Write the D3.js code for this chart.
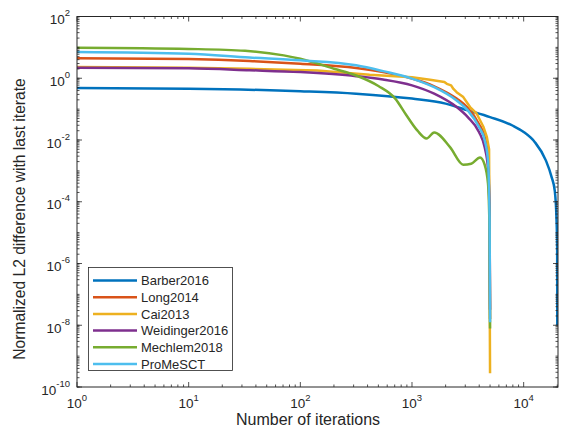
<!DOCTYPE html>
<html>
<head>
<meta charset="utf-8">
<script src="https://cdn.jsdelivr.net/npm/d3@7"></script>
<style>
  body { margin: 0; background: #fff; }
  text { font-family: "Liberation Sans", Arial, Helvetica, sans-serif; fill: #262626; }
</style>
</head>
<body>
<script>
// series (iterations vs. normalized L2 difference)
const seriesNames = ["Barber2016", "Long2014", "Cai2013", "Weidinger2016", "Mechlem2018", "ProMeSCT"];
const seriesColors = ["#0072BD", "#D95319", "#EDB120", "#7E2F8E", "#77AC30", "#4DBEEE"];

const barberIter = [1, 10, 100, 316, 1000, 2000, 3160, 5000, 7940, 10000, 12600, 15800, 17800, 19000, 19700, 19950, 20000];
const barberVal  = [0.479, 0.457, 0.380, 0.316, 0.219, 0.151, 0.0912, 0.055, 0.0295, 0.0182, 0.00851, 0.00219, 6.3e-4, 2.24e-4, 2.5e-5, 3.2e-6, 1e-8];

const longIter = [1, 10, 35, 100, 316, 550, 1000, 1580, 2510, 3160, 3980, 4470, 4790, 4950, 5000];
const longVal  = [4.47, 4.17, 3.63, 2.95, 2.14, 1.58, 0.977, 0.55, 0.219, 0.11, 0.0331, 0.0126, 0.00316, 3.2e-5, 1.6e-8];

const caiIter = [1, 10, 35, 141, 417, 1000, 1450, 1950, 2050, 2240, 2350, 2510, 2880, 3310, 3800, 4370, 4680, 4900, 4950, 5000];
const caiVal  = [2.3, 2.19, 2.02, 1.78, 1.29, 1.07, 0.891, 0.759, 0.66, 0.589, 0.45, 0.355, 0.245, 0.117, 0.0708, 0.0263, 0.0126, 0.005, 1e-6, 2.8e-10];

const weidIter = [1, 10, 35, 100, 316, 550, 1000, 1580, 2510, 3160, 3980, 4470, 4790, 4950, 5000];
const weidVal  = [2.19, 2.09, 1.82, 1.58, 1.17, 0.912, 0.589, 0.316, 0.117, 0.055, 0.0182, 0.00589, 0.00126, 3.2e-5, 3.2e-8];

const mechIter = [1, 10, 32, 71, 100, 200, 316, 500, 708, 891, 1120, 1350, 1580, 2190, 2880, 3390, 4070, 4470, 4790, 4950, 5000];
const mechVal  = [9.77, 8.91, 7.76, 5.5, 4.27, 2.04, 1.23, 0.562, 0.219, 0.0631, 0.02, 0.0112, 0.0174, 0.00589, 0.00158, 0.0017, 0.00269, 0.00158, 3.98e-4, 1e-5, 7.9e-9];

const promIter = [1, 10, 35, 100, 316, 550, 1000, 1580, 2510, 3160, 3980, 4470, 4790, 4950, 5000];
const promVal  = [7.08, 6.17, 4.68, 3.80, 2.63, 1.70, 0.977, 0.513, 0.191, 0.0912, 0.0263, 0.01, 0.00219, 3.2e-5, 1.26e-8];

const xTickExps = [0, 1, 2, 3, 4];
const yTickExps = [2, 0, -2, -4, -6, -8, -10];

const iters = [barberIter, longIter, caiIter, weidIter, mechIter, promIter];
const vals  = [barberVal, longVal, caiVal, weidVal, mechVal, promVal];

let width = 563, height = 435;
let plot = {left: 77, right: 558, top: 16.5, bottom: 387};

let svg = d3.select("body").append("svg")
    .attr("width", width)
    .attr("height", height);

let xScale = d3.scaleLog().domain([1, 20300]).range([plot.left, plot.right]);
let yScale = d3.scaleLog().domain([1e-10, 100]).range([plot.bottom, plot.top]);

// lines
svg.append("clipPath").attr("id", "clip")
  .append("rect")
    .attr("x", plot.left).attr("y", plot.top)
    .attr("width", plot.right - plot.left).attr("height", plot.bottom - plot.top);

let line = d3.line()
    .x(d => xScale(d[0]))
    .y(d => yScale(d[1]));

let data = seriesNames.map((name, i) => ({
    name: name,
    color: seriesColors[i],
    points: iters[i].map((it, j) => [it, vals[i][j]])
}));

svg.append("g").attr("clip-path", "url(#clip)")
  .selectAll("path")
  .data(data)
  .enter()
  .append("path")
    .attr("fill", "none")
    .attr("stroke", d => d.color)
    .attr("stroke-width", 2.5)
    .attr("stroke-linejoin", "round")
    .attr("d", d => line.curve(d.name === "Cai2013" ? d3.curveLinear : d3.curveMonotoneX)(d.points));

// box + ticks (matlab style, inside, mirrored)
let axisCol = "#262626";
let ticks = svg.append("g").attr("stroke", axisCol).attr("stroke-width", 0.8);

let xMinor = [], yMinor = [];
for (let e = 0; e <= 4; e++) for (let k = 2; k <= 9; k++) if (k * Math.pow(10, e) <= 20300) xMinor.push(k * Math.pow(10, e));
for (let e = -10; e < 2; e++) for (let k = 1; k <= 9; k++) yMinor.push(k * Math.pow(10, e));

xMinor.forEach(v => {
    let x = xScale(v);
    ticks.append("line").attr("x1", x).attr("x2", x).attr("y1", plot.bottom).attr("y2", plot.bottom - 2.5);
    ticks.append("line").attr("x1", x).attr("x2", x).attr("y1", plot.top).attr("y2", plot.top + 2.5);
});
xTickExps.forEach(e => {
    let x = xScale(Math.pow(10, e));
    ticks.append("line").attr("x1", x).attr("x2", x).attr("y1", plot.bottom).attr("y2", plot.bottom - 5);
    ticks.append("line").attr("x1", x).attr("x2", x).attr("y1", plot.top).attr("y2", plot.top + 5);
});
yMinor.forEach(v => {
    let y = yScale(v);
    ticks.append("line").attr("x1", plot.left).attr("x2", plot.left + 2.5).attr("y1", y).attr("y2", y);
    ticks.append("line").attr("x1", plot.right).attr("x2", plot.right - 2.5).attr("y1", y).attr("y2", y);
});
yTickExps.forEach(e => {
    let y = yScale(Math.pow(10, e));
    ticks.append("line").attr("x1", plot.left).attr("x2", plot.left + 5).attr("y1", y).attr("y2", y);
    ticks.append("line").attr("x1", plot.right).attr("x2", plot.right - 5).attr("y1", y).attr("y2", y);
});

svg.append("rect")
    .attr("x", plot.left).attr("y", plot.top)
    .attr("width", plot.right - plot.left).attr("height", plot.bottom - plot.top)
    .attr("fill", "none").attr("stroke", axisCol).attr("stroke-width", 1);

// tick labels
xTickExps.forEach(e => {
    let t = svg.append("text")
        .attr("x", xScale(Math.pow(10, e)))
        .attr("y", 407.5)
        .attr("text-anchor", "middle")
        .style("font-size", "13.5px");
    t.append("tspan").text("10");
    t.append("tspan").attr("dy", -6.5).style("font-size", "9.5px").text(e);
});
yTickExps.forEach(e => {
    let t = svg.append("text")
        .attr("x", 70)
        .attr("y", yScale(Math.pow(10, e)) + 7.5)
        .attr("text-anchor", "end")
        .style("font-size", "13.5px");
    t.append("tspan").text("10");
    t.append("tspan").attr("dy", -8).style("font-size", "9.5px").text(e);
});

// axis titles
svg.append("text")
    .attr("x", 308).attr("y", 424.5)
    .attr("text-anchor", "middle")
    .style("font-size", "16px")
    .text("Number of iterations");

svg.append("text")
    .attr("transform", "translate(24.5,219) rotate(-90)")
    .attr("text-anchor", "middle")
    .style("font-size", "15.6px")
    .text("Normalized L2 difference with last iterate");

// legend
let legend = svg.append("g");
legend.append("rect")
    .attr("x", 88.5).attr("y", 267.5)
    .attr("width", 144).attr("height", 103)
    .attr("fill", "#fff").attr("stroke", axisCol).attr("stroke-width", 0.8);

let rows = legend.selectAll("g.row")
    .data(data)
    .enter()
    .append("g")
      .attr("transform", (d, i) => `translate(0, ${280.5 + i * 16.7})`);
rows.append("line")
    .attr("x1", 93).attr("x2", 137)
    .attr("stroke", d => d.color).attr("stroke-width", 2.5);
rows.append("text")
    .attr("x", 141).attr("y", 4.6)
    .style("font-size", "13px")
    .text(d => d.name);
</script>
</body>
</html>
